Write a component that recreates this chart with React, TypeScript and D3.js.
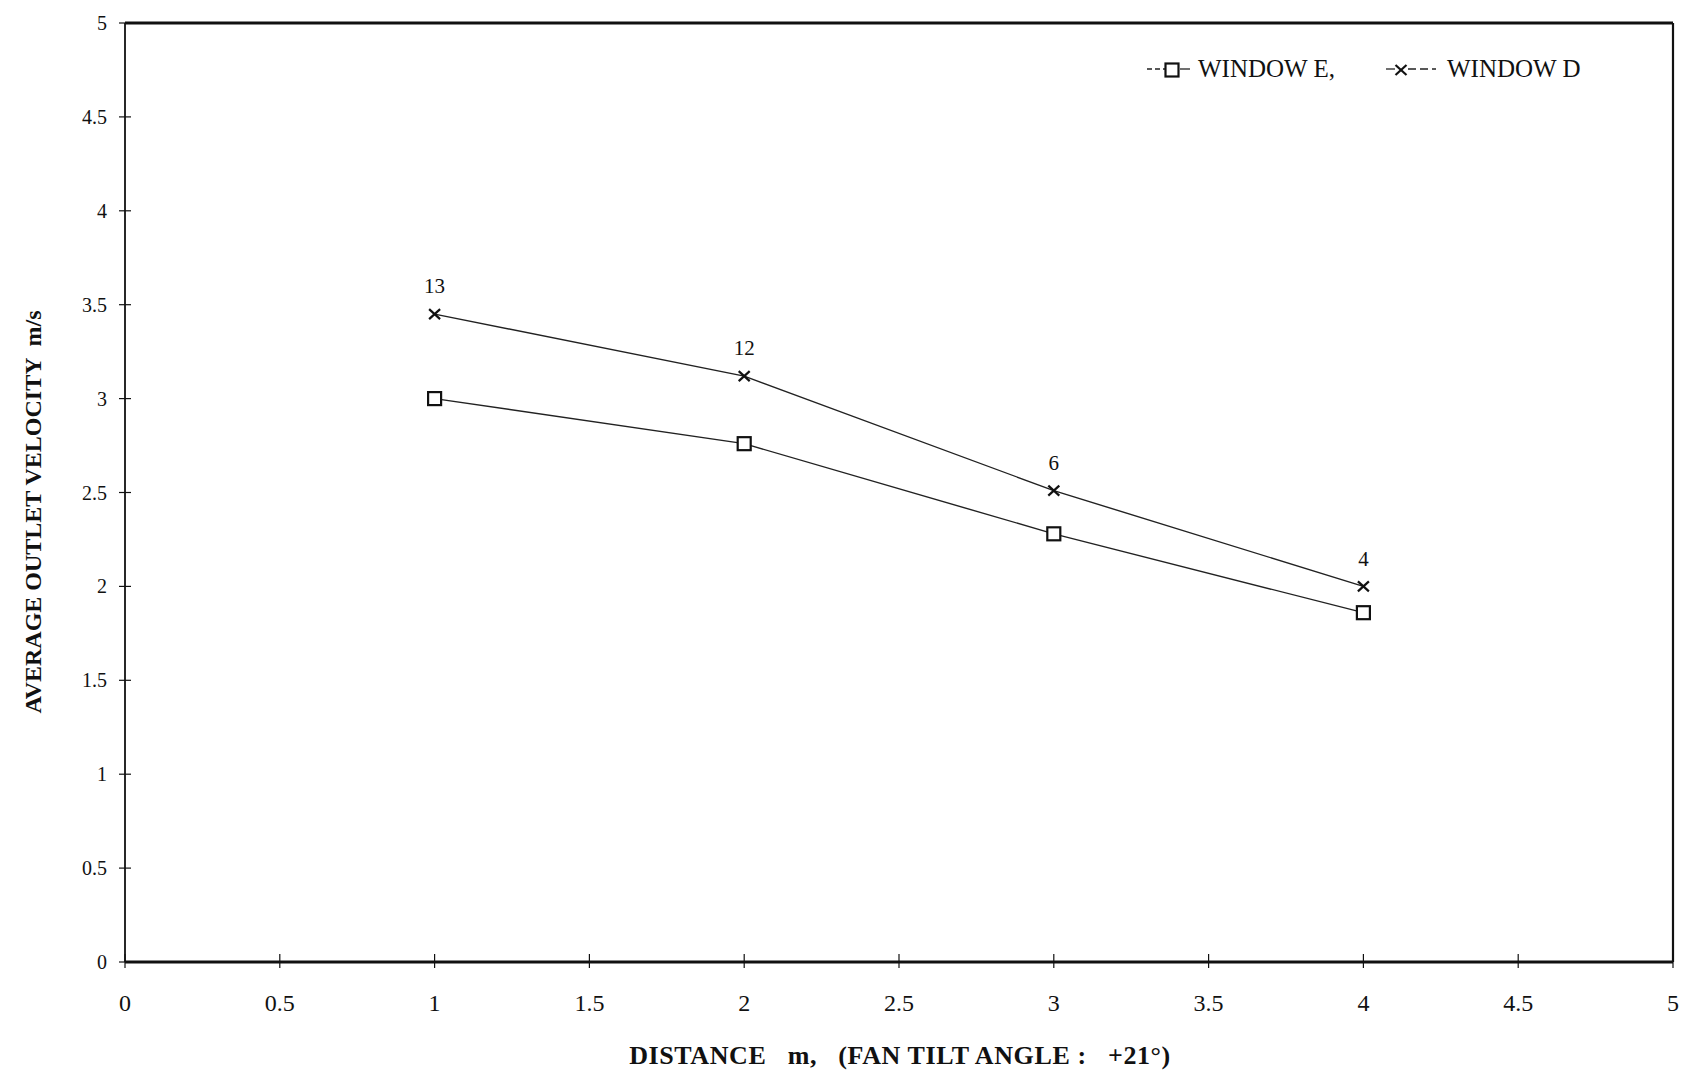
import React from 'react';
import * as d3 from 'd3';

const distances = [1, 2, 3, 4];
const windowE = [3.0, 2.76, 2.28, 1.86];
const windowD = [3.45, 3.12, 2.51, 2.0];
const pointLabelsD = ['13', '12', '6', '4'];
const xTicks = [0, 0.5, 1, 1.5, 2, 2.5, 3, 3.5, 4, 4.5, 5];
const yTicks = [0, 0.5, 1, 1.5, 2, 2.5, 3, 3.5, 4, 4.5, 5];

const W = 1681;
const H = 1072;
const left = 125;
const right = 1673;
const top = 23;
const bottom = 962;
const FONT = '"Liberation Serif", "Times New Roman", serif';

export default function App() {
  const x = d3.scaleLinear().domain([0, 5]).range([left, right]);
  const y = d3.scaleLinear().domain([0, 5]).range([bottom, top]);
  const line = d3.line<number>()
    .x((d, i) => x(distances[i]))
    .y((d) => y(d));

  const square = (cx: number, cy: number, key: string) => (
    <rect key={key} x={cx - 6.5} y={cy - 6.5} width={13} height={13}
      fill="#fff" stroke="#111" strokeWidth={2.2} />
  );
  const cross = (cx: number, cy: number, key: string) => (
    <g key={key} stroke="#111" strokeWidth={2.2}>
      <line x1={cx - 5.5} y1={cy - 5} x2={cx + 5.5} y2={cy + 5} />
      <line x1={cx - 5.5} y1={cy + 5} x2={cx + 5.5} y2={cy - 5} />
    </g>
  );

  return (
    <svg width={W} height={H} style={{ position: 'absolute', left: 0, top: 0, background: '#fff' }}
      fontFamily={FONT}>
      <rect width={W} height={H} fill="#fff" />

      {/* frame */}
      <line x1={left} y1={top} x2={right} y2={top} stroke="#111" strokeWidth={3} />
      <line x1={left} y1={bottom} x2={right} y2={bottom} stroke="#111" strokeWidth={3.2} />
      <line x1={left} y1={top} x2={left} y2={bottom} stroke="#111" strokeWidth={1.8} />
      <line x1={right} y1={top} x2={right} y2={bottom} stroke="#111" strokeWidth={2.2} />

      {/* y axis ticks */}
      {yTicks.map((t) => (
        <g key={'y' + t}>
          <line x1={left - 6} x2={left + 6} y1={y(t)} y2={y(t)} stroke="#111" strokeWidth={1.2} />
          <text x={left - 18} y={y(t)} dy="0.35em" textAnchor="end" fontSize={20} fill="#111">{t}</text>
        </g>
      ))}

      {/* x axis ticks */}
      {xTicks.map((t) => (
        <g key={'x' + t}>
          <line x1={x(t)} x2={x(t)} y1={bottom - 8} y2={bottom + 6} stroke="#111" strokeWidth={1.2} />
          <text x={x(t)} y={bottom + 41} dy="0.35em" textAnchor="middle" fontSize={24} fill="#111">{t}</text>
        </g>
      ))}

      {/* series lines */}
      <path d={line(windowE) || ''} fill="none" stroke="#222" strokeWidth={1.4} />
      <path d={line(windowD) || ''} fill="none" stroke="#222" strokeWidth={1.4} />

      {windowE.map((v, i) => square(x(distances[i]), y(v), 'e' + i))}
      {windowD.map((v, i) => cross(x(distances[i]), y(v), 'd' + i))}
      {windowD.map((v, i) => (
        <text key={'l' + i} x={x(distances[i])} y={y(v) - 28} dy="0.35em" textAnchor="middle"
          fontSize={21} fill="#111">{pointLabelsD[i]}</text>
      ))}

      {/* legend */}
      <g>
        <line x1={1147} x2={1165} y1={69} y2={69} stroke="#222" strokeWidth={1.3} strokeDasharray="5,3" />
        <line x1={1180} x2={1190} y1={69} y2={69} stroke="#222" strokeWidth={1.3} />
        {square(1172, 70, 'legE')}
        <text x={1198} y={68} dy="0.35em" fontSize={25} fill="#111">WINDOW E,</text>
        <line x1={1386} x2={1395} y1={69} y2={69} stroke="#222" strokeWidth={1.3} />
        <line x1={1408} x2={1436} y1={69} y2={69} stroke="#222" strokeWidth={1.3} strokeDasharray="8,4" />
        {cross(1401, 70, 'legD')}
        <text x={1447} y={68} dy="0.35em" fontSize={25} fill="#111">WINDOW D</text>
      </g>

      {/* axis titles */}
      <text x={900} y={1055} dy="0.35em" textAnchor="middle" fontSize={26} fontWeight="bold" fill="#111"
        letterSpacing={0.6} xmlSpace="preserve">{'DISTANCE   m,   (FAN TILT ANGLE :   +21°)'}</text>
      <text transform={`translate(33, 512) rotate(-90)`} dy="0.35em" textAnchor="middle" fontSize={24}
        fontWeight="bold" fill="#111" xmlSpace="preserve">{'AVERAGE OUTLET VELOCITY  m/s'}</text>
    </svg>
  );
}
